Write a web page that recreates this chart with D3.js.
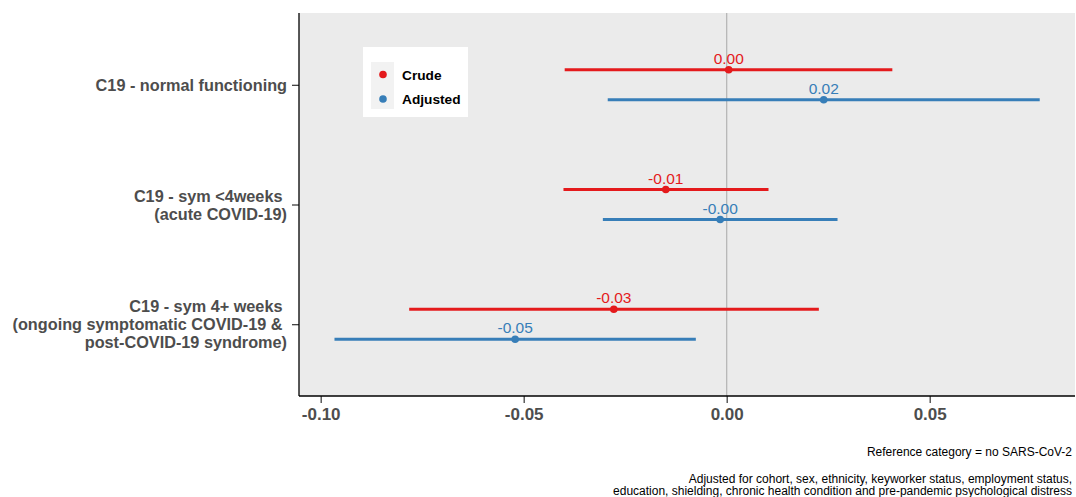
<!DOCTYPE html>
<html>
<head>
<meta charset="utf-8">
<script src="https://cdn.jsdelivr.net/npm/d3@7"></script>
<style>
  body { margin: 0; background: #fff; }
  svg text { font-family: "Liberation Sans", Arial, sans-serif; }
</style>
</head>
<body>
<div id="chart"></div>
<script>
// categories (top to bottom), each label can have several lines
const categories = ["normal", "acute", "long"];
const categoryLabels = [
    ["C19 - normal functioning"],
    ["C19 - sym <4weeks ", "(acute COVID-19)"],
    ["C19 - sym 4+ weeks ", "(ongoing symptomatic COVID-19 & ", "post-COVID-19 syndrome)"]
];

// series
const seriesNames = ["Crude", "Adjusted"];
const seriesColors = ["#E41A1C", "#377EB8"];

// estimates and confidence intervals, per category
const crudeEst = [0.0005, -0.0150, -0.0278];
const crudeLow = [-0.0399, -0.0402, -0.0782];
const crudeHigh = [0.0408, 0.0103, 0.0227];
const adjEst = [0.0239, -0.0016, -0.0521];
const adjLow = [-0.0293, -0.0305, -0.0966];
const adjHigh = [0.0771, 0.0273, -0.0076];
const crudeText = ["0.00", "-0.01", "-0.03"];
const adjText = ["0.02", "-0.00", "-0.05"];

const xTicks = [-0.10, -0.05, 0.00, 0.05];

const captionRef = "Reference category = no SARS-CoV-2";
const captionAdj = [
    "Adjusted for cohort, sex, ethnicity, keyworker status, employment status,",
    "education, shielding, chronic health condition and pre-pandemic psychological distress"
];

// build rows
const rows = [];
categories.forEach((c, i) => {
    rows.push({cat: c, series: 0, est: crudeEst[i], lo: crudeLow[i], hi: crudeHigh[i], txt: crudeText[i]});
    rows.push({cat: c, series: 1, est: adjEst[i], lo: adjLow[i], hi: adjHigh[i], txt: adjText[i]});
});

const W = 1076, H = 497;
const panel = {left: 299, right: 1075, top: 13, bottom: 396};

const svg = d3.select("#chart").append("svg")
    .attr("width", W)
    .attr("height", H);

// scales
const x = d3.scaleLinear()
    .domain([-0.10534, 0.08579])
    .range([panel.left, panel.right]);

const y = d3.scalePoint()
    .domain(categories)
    .range([panel.top, panel.bottom])
    .padding(0.6);

const dodge = 15;

// panel background
svg.append("rect")
    .attr("x", panel.left)
    .attr("y", panel.top)
    .attr("width", panel.right - panel.left)
    .attr("height", panel.bottom - panel.top)
    .attr("fill", "#ebebeb");

// zero reference line
svg.append("line")
    .attr("x1", x(0)).attr("x2", x(0))
    .attr("y1", panel.top).attr("y2", panel.bottom)
    .attr("stroke", "#b3b3b3")
    .attr("stroke-width", 1.2);

// intervals
const g = svg.append("g");
g.selectAll("line.ci")
    .data(rows)
    .enter()
    .append("line")
    .attr("class", "ci")
    .attr("x1", d => x(d.lo))
    .attr("x2", d => x(d.hi))
    .attr("y1", d => y(d.cat) + (d.series === 0 ? -dodge : dodge))
    .attr("y2", d => y(d.cat) + (d.series === 0 ? -dodge : dodge))
    .attr("stroke", d => seriesColors[d.series])
    .attr("stroke-width", 3);

g.selectAll("circle.pt")
    .data(rows)
    .enter()
    .append("circle")
    .attr("class", "pt")
    .attr("cx", d => x(d.est))
    .attr("cy", d => y(d.cat) + (d.series === 0 ? -dodge : dodge))
    .attr("r", 3.8)
    .attr("fill", d => seriesColors[d.series]);

g.selectAll("text.val")
    .data(rows)
    .enter()
    .append("text")
    .attr("class", "val")
    .attr("x", d => x(d.est))
    .attr("y", d => y(d.cat) + (d.series === 0 ? -dodge : dodge) - 6)
    .attr("text-anchor", "middle")
    .style("font-size", "15.5px")
    .attr("fill", d => seriesColors[d.series])
    .text(d => d.txt);

// x axis
const xAxis = svg.append("g")
    .attr("transform", "translate(0," + panel.bottom + ")")
    .call(d3.axisBottom(x).tickValues(xTicks).tickSize(7).tickPadding(5));
xAxis.select(".domain").remove();
xAxis.selectAll(".tick line").attr("stroke", "#333").attr("stroke-width", 1.2);
xAxis.selectAll(".tick text")
    .style("font-size", "17px")
    .style("font-weight", "bold")
    .attr("fill", "#4d4d4d")
    .text(d => d3.format(".2f")(d).replace("−", "-"));

svg.append("line")
    .attr("x1", panel.left).attr("x2", panel.right)
    .attr("y1", panel.bottom).attr("y2", panel.bottom)
    .attr("stroke", "#000").attr("stroke-width", 1.3);

// y axis
const yAxis = svg.append("g")
    .attr("transform", "translate(" + panel.left + ",0)")
    .call(d3.axisLeft(y).tickSize(7).tickFormat(""));
yAxis.select(".domain").remove();
yAxis.selectAll(".tick line").attr("stroke", "#333").attr("stroke-width", 1.2);

svg.append("line")
    .attr("x1", panel.left).attr("x2", panel.left)
    .attr("y1", panel.top).attr("y2", panel.bottom)
    .attr("stroke", "#000").attr("stroke-width", 1.3);

// multi-line category labels
const lineH = 18;
categories.forEach((c, i) => {
    const lines = categoryLabels[i];
    const t = svg.append("text")
        .attr("text-anchor", "end")
        .style("font-size", "16.25px")
        .style("font-weight", "bold")
        .style("white-space", "pre")
        .attr("fill", "#4d4d4d");
    lines.forEach((l, j) => {
        t.append("tspan")
            .attr("x", 287)
            .attr("y", y(c) + 6 + (j - (lines.length - 1) / 2) * lineH)
            .text(l);
    });
});

// legend
const legend = svg.append("g").attr("transform", "translate(363,47)");
legend.append("rect")
    .attr("width", 105).attr("height", 70)
    .attr("fill", "#fff");
legend.append("rect")
    .attr("x", 8).attr("y", 15)
    .attr("width", 23).attr("height", 47)
    .attr("fill", "#f2f2f2");
seriesNames.forEach((s, i) => {
    legend.append("circle")
        .attr("cx", 20).attr("cy", 27.5 + i * 24.5)
        .attr("r", 3.8)
        .attr("fill", seriesColors[i]);
    legend.append("text")
        .attr("x", 39).attr("y", 27.5 + i * 24.5 + 5)
        .style("font-size", "13.7px")
        .style("font-weight", "bold")
        .attr("fill", "#000")
        .text(s);
});

// captions
svg.append("text")
    .attr("x", 1072).attr("y", 456)
    .attr("text-anchor", "end")
    .style("font-size", "12px")
    .attr("fill", "#000")
    .text(captionRef);

captionAdj.forEach((l, i) => {
    svg.append("text")
        .attr("x", 1072).attr("y", 482.5 + i * 12.5)
        .attr("text-anchor", "end")
        .style("font-size", "12px")
        .attr("fill", "#000")
        .text(l);
});
</script>
</body>
</html>
